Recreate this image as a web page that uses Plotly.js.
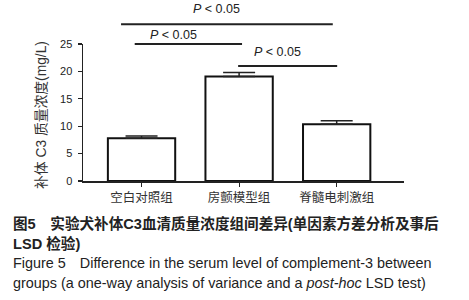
<!DOCTYPE html>
<html>
<head>
<meta charset="utf-8">
<script src="https://cdn.plot.ly/plotly-3.0.1.min.js"></script>
<style>html,body{margin:0;padding:0;background:#fff;}#chart{width:469px;height:300px;}</style>
</head>
<body>
<div id="chart"></div>
<script>
// ---- data ----
const categories = ["空白对照组", "房颤模型组", "脊髓电刺激组"];
const meanValues = [7.8, 19.05, 10.35];
const errorUp = [0.4, 0.75, 0.65];
const yTickVals = [0, 5, 10, 15, 20, 25];
const yTitle = "补体 C3 质量浓度(mg/L)";
// significance brackets (category units) and height (mg/L)
const sigFrom = [-0.21, -0.07, 0.99];
const sigTo = [1.96, 1.03, 2.005];
const sigHeight = [28.6, 25.0, 21.0];
const sigLabelX = [0.765, 0.33, 1.395];
const sigLabel = ["<i>P</i> &lt; 0.05", "<i>P</i> &lt; 0.05", "<i>P</i> &lt; 0.05"];
const captionLines = [
  "<b>图5　实验犬补体C3血清质量浓度组间差异(单因素方差分析及事后</b>",
  "<b>LSD 检验)</b>",
  "Figure 5　Difference in the serum level of complement-3 between",
  "groups (a one-way analysis of variance and a <i>post-hoc</i> LSD test)"
];

// ---- layout helpers ----
const W = 469, H = 300;
const mL = 83, mR = 65, mT = 44, mB = 119;
const plotW = W - mL - mR, plotH = H - mT - mB;
const yMax = 25;
const px2paperX = px => (px - mL) / plotW;
const py2paperY = py => (H - mB - py) / plotH;

const FONT_EN = "Liberation Sans, Arial, sans-serif";
const FONT_CJK = "Liberation Sans, Noto Sans CJK SC, sans-serif";

const trace = {
  type: "bar",
  x: categories.map((c, i) => i),
  y: meanValues,
  width: 0.69,
  marker: {color: "#ffffff", line: {color: "#111", width: 2}},
  error_y: {type: "data", symmetric: false, array: errorUp, arrayminus: meanValues.map(() => 0),
            color: "#222", thickness: 1.5, width: 16},
  hoverinfo: "none"
};

const shapes = sigHeight.map((h, i) => ({
  type: "line", xref: "x", yref: "paper",
  x0: sigFrom[i], x1: sigTo[i], y0: h / yMax, y1: h / yMax,
  line: {color: "#222", width: 2}
}));

const labelShift = [15, 9, 14];
const annotations = [];
sigHeight.forEach((h, i) => {
  annotations.push({
    xref: "x", yref: "paper",
    x: sigLabelX[i], y: h / yMax, yanchor: "middle", yshift: labelShift[i],
    text: sigLabel[i], showarrow: false,
    font: {family: FONT_EN, size: 12.5, color: "#222"}
  });
});
// y-axis title
annotations.push({
  xref: "paper", yref: "paper", x: px2paperX(42), y: py2paperY(115),
  xanchor: "center", yanchor: "middle", textangle: -90,
  text: yTitle, showarrow: false,
  font: {family: FONT_CJK, size: 13.8, color: "#333"}
});
const capY = [223, 243, 263, 283];
captionLines.forEach((t, i) => {
  annotations.push({
    xref: "paper", yref: "paper", x: px2paperX(11), y: py2paperY(capY[i]),
    xanchor: "left", yanchor: "middle", text: t, showarrow: false,
    font: {family: i < 2 ? FONT_CJK : FONT_EN, size: i < 2 ? 14.6 : 14.4, color: "#222"}
  });
});

const layout = {
  width: W, height: H,
  margin: {l: mL, r: mR, t: mT, b: mB, pad: 0},
  paper_bgcolor: "#fff", plot_bgcolor: "#fff",
  showlegend: false,
  font: {family: FONT_EN, color: "#222"},
  xaxis: {
    range: [-0.6, 2.69], tickvals: [0, 1, 2], ticktext: categories,
    showline: true, linecolor: "#222", linewidth: 1.5,
    ticks: "outside", ticklen: 4, tickcolor: "#222", tickwidth: 1.2,
    showgrid: false, zeroline: false,
    tickfont: {family: "Noto Sans CJK SC, sans-serif", size: 12.5, color: "#333"}
  },
  yaxis: {
    range: [0, yMax], tickvals: yTickVals,
    showline: true, linecolor: "#222", linewidth: 1.5,
    ticks: "outside", ticklen: 4, tickcolor: "#222", tickwidth: 1.2,
    ticklabelstandoff: 3,
    showgrid: false, zeroline: false,
    tickfont: {family: FONT_EN, size: 11, color: "#222"}
  },
  shapes: shapes,
  annotations: annotations
};

Plotly.newPlot("chart", [trace], layout, {staticPlot: true, displayModeBar: false});
</script>
</body>
</html>
